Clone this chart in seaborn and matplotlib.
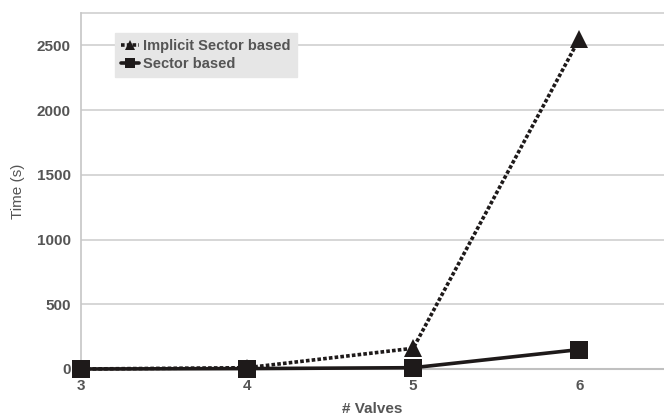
import matplotlib
matplotlib.use("Agg")
import matplotlib.pyplot as plt
import seaborn as sns
import pandas as pd

valves = [3, 4, 5, 6]
implicit_sector = [0, 10, 160, 2550]
sector = [0, 3, 10, 150]

df = pd.DataFrame({
    "valves": valves * 2,
    "time": implicit_sector + sector,
    "method": ["Implicit Sector based"] * 4 + ["Sector based"] * 4,
})

sns.set_theme(style="white")
plt.rcParams["font.family"] = ["Liberation Sans Narrow", "Liberation Sans", "DejaVu Sans"]

fig = plt.figure(figsize=(6.64, 4.16), dpi=100)
ax = fig.add_axes([0.122, 0.113, 0.878, 0.856])

sns.lineplot(data=df, x="valves", y="time", hue="method", style="method",
             markers={"Implicit Sector based": "^", "Sector based": "s"},
             dashes={"Implicit Sector based": (1, 0.6), "Sector based": ""},
             palette={"Implicit Sector based": "#1e1a1a", "Sector based": "#1e1a1a"},
             linewidth=2.6, markersize=13, markeredgewidth=0, ax=ax)
for ln in ax.get_lines():
    ln.set_clip_on(False)
    ln.set_zorder(5)

ax.set_xlim(3, 6.51)
ax.set_ylim(0, 2750)
ax.set_xticks(valves)
ax.set_yticks([0, 500, 1000, 1500, 2000, 2500])
for s in ["top", "right"]:
    ax.spines[s].set_visible(False)
ax.spines["left"].set_color("#c8c8c8")
ax.spines["bottom"].set_color("#c0c0c0")
ax.spines["bottom"].set_linewidth(1.5)
ax.yaxis.grid(True, color="#d0d0d0", linewidth=1.2)
ax.axhline(2750, color="#d0d0d0", linewidth=1.2, clip_on=False)
ax.tick_params(axis="both", colors="#c0c0c0", length=4, labelcolor="#555555", labelsize=11)
for lbl in ax.get_xticklabels() + ax.get_yticklabels():
    lbl.set_fontweight("bold")

ax.set_xlabel("# Valves", fontsize=11, fontweight="bold", color="#555555", labelpad=6)
ax.set_ylabel("Time (s)", fontsize=11, color="#555555", labelpad=8)

leg = ax.legend(loc="upper left", bbox_to_anchor=(0.045, 0.965), frameon=True,
                fancybox=False, handlelength=1.2, handletextpad=0.3, markerscale=0.55,
                labelspacing=0.25, borderpad=0.45, prop={"weight": "bold", "size": 10.5})
leg.get_frame().set_facecolor("#e6e6e6")
leg.get_frame().set_edgecolor("#e6e6e6")
leg.get_frame().set_alpha(1)
for t in leg.get_texts():
    t.set_color("#555555")

fig.savefig("out.png", dpi=100)
